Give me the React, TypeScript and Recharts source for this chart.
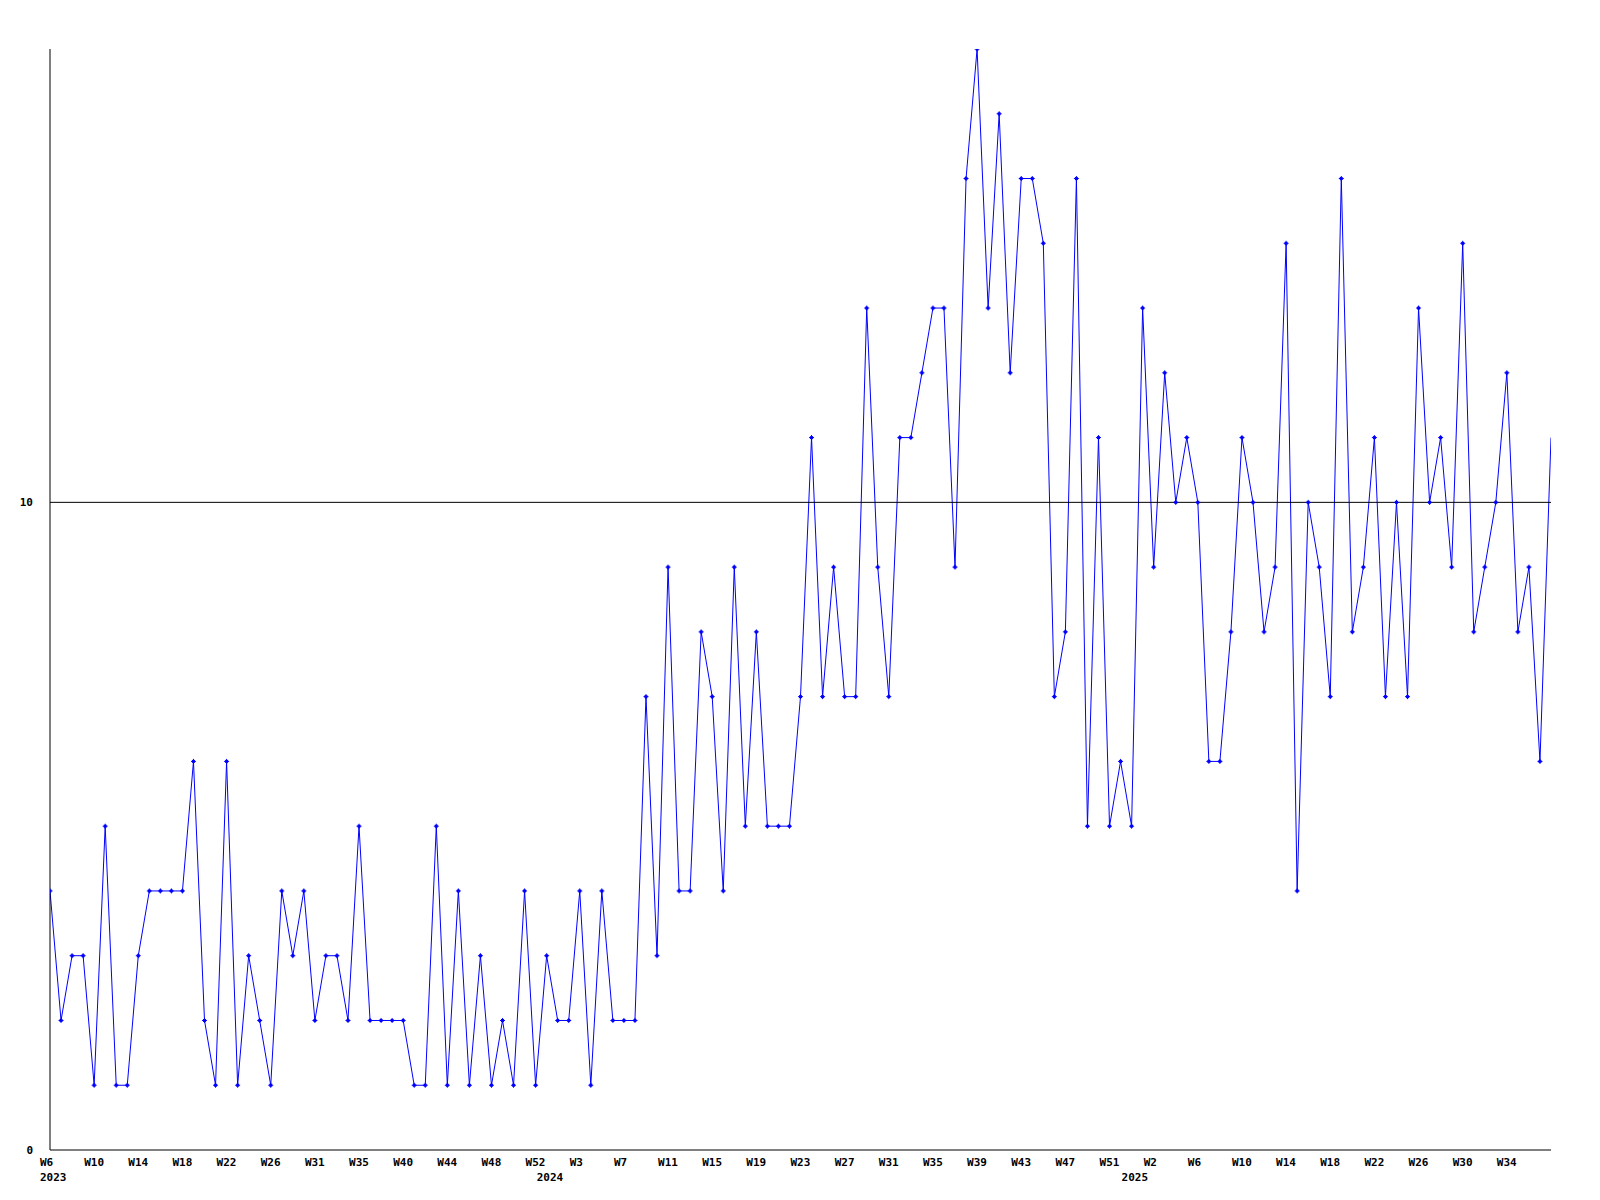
import React from 'react';
import { LineChart, Line, XAxis, YAxis, ReferenceLine } from 'recharts';

// Weekly values, W6 2023 through W37 2025
const values: number[] = [
  4, 2, 3, 3, 1, 5, 1, 1, 3, 4, 4, 4, 4, 6, 2, 1, 6, 1, 3, 2, 1, 4, 3, 4, 2, 3, 3,
  2, 5, 2, 2, 2, 2, 1, 1, 5, 1, 4, 1, 3, 1, 2, 1, 4, 1, 3, 2, 2, 4, 1, 4, 2,
  2, 2, 7, 3, 9, 4, 4, 8, 7, 4, 9, 5, 8, 5, 5, 5, 7, 11, 7, 9, 7, 7, 13, 9, 7,
  11, 11, 12, 13, 13, 9, 15, 17, 13, 16, 12, 15, 15, 14, 7, 8, 15, 5, 11, 5, 6, 5, 13, 9, 12, 10,
  11, 10, 6, 6, 8, 11, 10, 8, 9, 14, 4, 10, 9, 7, 15, 8, 9, 11, 7, 10, 7, 13, 10, 11, 9, 14, 8, 9, 10, 12, 8, 9, 6, 11,
];

// Week tick labels (one every 4 weeks)
const weekLabels: string[] = [
  'W6', 'W10', 'W14', 'W18', 'W22', 'W26', 'W31', 'W35', 'W40', 'W44', 'W48', 'W52',
  'W3', 'W7', 'W11', 'W15', 'W19', 'W23', 'W27', 'W31', 'W35', 'W39', 'W43', 'W47', 'W51',
  'W2', 'W6', 'W10', 'W14', 'W18', 'W22', 'W26', 'W30', 'W34',
];

const yearLabels: string[] = ['2023', '2024', '2025'];
const yearWeekIndex: number[] = [0, 45, 98];
const yTicks: number[] = [0, 10];

const data = values.map((v, i) => ({ i, v }));
const weekTicks = weekLabels.map((_, k) => k * 4);
const lastIndex = values.length - 1;

const FONT = "'DejaVu Sans Mono', monospace";

const WeekTick = (props: any) => {
  const { x, y, payload } = props;
  const k = weekTicks.indexOf(payload.value);
  return (
    <text x={x - 10} y={y + 16} textAnchor="start" fontFamily={FONT} fontWeight="bold" fontSize={11} fill="#000">
      {weekLabels[k]}
    </text>
  );
};

const YearTick = (props: any) => {
  const { x, y, payload } = props;
  const k = yearWeekIndex.indexOf(payload.value);
  return (
    <text x={x - 10} y={y + 17} textAnchor="start" fontFamily={FONT} fontWeight="bold" fontSize={11} fill="#000">
      {yearLabels[k]}
    </text>
  );
};

const YTick = (props: any) => {
  const { x, y, payload } = props;
  return (
    <text x={x} y={y + 4} textAnchor="end" fontFamily={FONT} fontWeight="bold" fontSize={11} fill="#000">
      {payload.value}
    </text>
  );
};

const PlusDot = (props: any) => {
  const { cx, cy, index } = props;
  if (cx == null || cy == null || index === lastIndex) return <g key={`d${index}`} />;
  return (
    <g key={`d${index}`}>
      <path d={`M${cx - 2.5},${cy}H${cx + 2.5}M${cx},${cy - 2.5}V${cy + 2.5}`} stroke="#0000ff" strokeWidth={1} fill="none" />
      <rect x={cx - 1.5} y={cy - 1.5} width={3} height={3} fill="#0000ff" />
    </g>
  );
};

export default function App() {
  return (
    <div style={{ position: 'absolute', left: 0, top: 0, width: 1600, height: 1200, background: '#fff' }}>
      <LineChart width={1600} height={1200} data={data} margin={{ top: 49, right: 49, left: 0, bottom: 0 }}>
        <XAxis
          dataKey="i"
          type="number"
          domain={[0, 136]}
          ticks={weekTicks}
          interval={0}
          height={14}
          tickLine={false}
          tickSize={0}
          tickMargin={0}
          axisLine={{ stroke: '#000', strokeWidth: 1 }}
          tick={<WeekTick />}
          allowDataOverflow
        />
        <XAxis
          xAxisId="year"
          dataKey="i"
          type="number"
          domain={[0, 136]}
          ticks={yearWeekIndex}
          interval={0}
          height={36}
          tickLine={false}
          tickSize={0}
          tickMargin={0}
          axisLine={false}
          tick={<YearTick />}
          allowDataOverflow
        />
        <YAxis
          type="number"
          domain={[0, 17]}
          ticks={yTicks}
          interval={0}
          width={50}
          tickLine={false}
          tickSize={0}
          tickMargin={17}
          axisLine={{ stroke: '#000', strokeWidth: 1 }}
          tick={<YTick />}
          allowDataOverflow
        />
        <Line
          type="linear"
          dataKey="v"
          stroke="#0000ff"
          strokeWidth={1}
          dot={<PlusDot />}
          activeDot={false}
          isAnimationActive={false}
        />
        <ReferenceLine y={10} stroke="#000" strokeWidth={1} />
      </LineChart>
    </div>
  );
}
